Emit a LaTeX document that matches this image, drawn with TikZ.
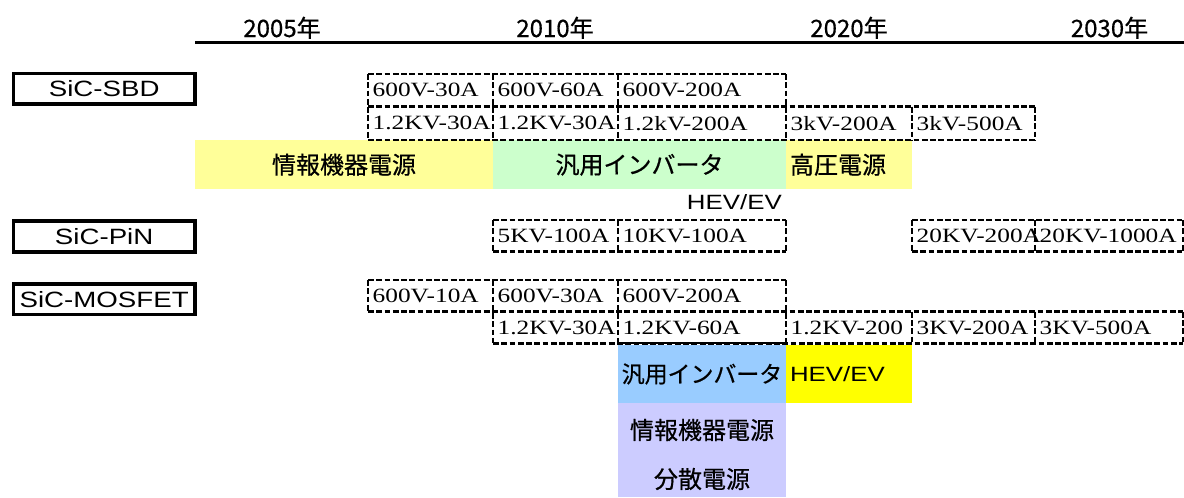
\documentclass[tikz,border=0pt]{standalone}
\usepackage{fontspec}
\newfontfamily\jpfont[FakeBold=0.6]{Noto Sans CJK JP}
\newfontfamily\serifst[FakeStretch=1.25]{Liberation Serif}
\newfontfamily\sansst[FakeStretch=1.25]{Liberation Sans}
\definecolor{lyel}{HTML}{FFFF99}
\definecolor{lgrn}{HTML}{CCFFCC}
\definecolor{lblu}{HTML}{99CCFF}
\definecolor{yel}{HTML}{FFFF00}
\definecolor{lav}{HTML}{CCCCFF}
\tikzset{
  cellbox/.style={inner xsep=3.5pt, inner ysep=0pt, outer sep=0pt, anchor=north west, font=\serifst\fontsize{15.2pt}{16pt}\selectfont},
  gridline/.style={line width=2.2pt, dash pattern=on 4.4pt off 1.8pt},
  devbox/.style={draw, line width=2.6pt, inner sep=0pt, outer sep=0pt, minimum width=136pt, minimum height=23pt, anchor=north west, font=\sansst\fontsize{16.6pt}{18pt}\selectfont},
  yeartxt/.style={anchor=base, inner sep=0pt, font=\jpfont\fontsize{18pt}{20pt}\selectfont},
  band/.style={inner sep=0pt, outer sep=0pt, anchor=north west, font=\jpfont\fontsize{18pt}{20pt}\selectfont},
  jptxt/.style={inner sep=0pt, font=\jpfont\fontsize{18pt}{20pt}\selectfont},
  hevtxt/.style={inner sep=0pt, font=\sansst\fontsize{15.5pt}{17pt}\selectfont},
}
\newcommand{\mycell}[6]{%
  \pgfmathsetlengthmacro{\mycw}{#4*0.75pt-7pt}%
  \pgfmathsetlengthmacro{\mych}{#5*0.75pt}%
  \node[cellbox, minimum height=\mych] (#1) at (#2,#3) {\makebox[\mycw][l]{#6}};}
\begin{document}
\begin{tikzpicture}[x=0.75pt, y=-0.75pt]
\useasboundingbox (0,0) rectangle (1184,497);
% header
\node[yeartxt] (y2005) at (282,37) {2005年};
\node[yeartxt] (y2010) at (555,37) {2010年};
\node[yeartxt] (y2020) at (849,37) {2020年};
\node[yeartxt] (y2030) at (1109.5,37) {2030年};
\coordinate (hl) at (195,42.3);
\coordinate (hr) at (1184,42.3);
\draw[line width=2.1pt] (hl) -- (hr);
% device labels
\node[devbox] (sbd) at (13.5,73.5) {SiC-SBD};
\node[devbox] (pin) at (13.5,221.2) {SiC-PiN};
\node[devbox] (mos) at (13.5,284) {SiC-MOSFET};
% application bands (SBD)
\node[band, fill=lyel, minimum width=223.5pt, minimum height=37pt] (a1) at (195,140) {情報機器電源};
\node[band, fill=lgrn, minimum width=219.75pt, minimum height=37pt] (a2) at (493,140) {汎用インバータ};
\node[band, fill=lyel, minimum height=37pt, inner xsep=3pt] (a3) at (786,140) {\makebox[88.5pt][l]{高圧電源}};
\node[hevtxt, anchor=base east] (hev1) at (782,209) {HEV/EV};
% application bands (MOSFET)
\node[band, fill=lblu, minimum width=126pt, minimum height=43.5pt, font=\jpfont\fontsize{17.2pt}{20pt}\selectfont] (b1) at (618,345) {汎用インバータ};
\node[band, fill=yel, minimum height=43.5pt, inner xsep=3pt, font=\sansst\fontsize{15.5pt}{17pt}\selectfont] (b2) at (786,345) {\makebox[88.5pt][l]{HEV/EV}};
\node[band, fill=lav, minimum width=126pt, minimum height=70.5pt] (b3) at (618,403) {};
\node[jptxt] (b3a) at (702,430) {情報機器電源};
\node[jptxt] (b3b) at (702,479) {分散電源};
% SBD cells
\mycell{s11}{368}{74}{125}{32.7}{600V-30A}
\mycell{s12}{493}{74}{125}{32.7}{600V-60A}
\mycell{s13}{618}{74}{168}{32.7}{600V-200A}
\mycell{s21}{368}{106.7}{125}{33.3}{1.2KV-30A}
\mycell{s22}{493}{106.7}{125}{33.3}{1.2KV-30A}
\mycell{s23}{618}{106.7}{168}{33.3}{1.2kV-200A}
\mycell{s24}{786}{106.7}{126}{33.3}{3kV-200A}
\mycell{s25}{912}{106.7}{123}{33.3}{3kV-500A}
\draw[gridline] (s11.north west) -- (s13.north east);
\draw[gridline] (s21.north west) -- (s25.north east);
\draw[gridline] (s21.south west) -- (s25.south east);
\draw[gridline] (s11.north west) -- (s21.south west);
\draw[gridline] (s12.north west) -- (s22.south west);
\draw[gridline] (s13.north west) -- (s23.south west);
\draw[gridline] (s13.north east) -- (s23.south east);
\draw[gridline] (s25.north west) -- (s25.south west);
\draw[gridline] (s25.north east) -- (s25.south east);
% PiN cells
\mycell{p1}{493}{220}{125}{31.7}{5KV-100A}
\mycell{p2}{618}{220}{168}{31.7}{10KV-100A}
\mycell{p3}{912}{220}{123}{31.7}{20KV-200A}
\mycell{p4}{1035}{220}{148}{31.7}{20KV-1000A}
\draw[gridline] (p1.north west) -- (p2.north east);
\draw[gridline] (p1.south west) -- (p2.south east);
\draw[gridline] (p3.north west) -- (p4.north east);
\draw[gridline] (p3.south west) -- (p4.south east);
\draw[gridline] (p1.north west) -- (p1.south west);
\draw[gridline] (p2.north west) -- (p2.south west);
\draw[gridline] (p2.north east) -- (p2.south east);
\draw[gridline] (p3.north west) -- (p3.south west);
\draw[gridline] (p4.north west) -- (p4.south west);
\draw[gridline] (p4.north east) -- (p4.south east);
% MOSFET cells
\mycell{m11}{368}{280}{125}{31.7}{600V-10A}
\mycell{m12}{493}{280}{125}{31.7}{600V-30A}
\mycell{m13}{618}{280}{168}{31.7}{600V-200A}
\mycell{m21}{493}{311.7}{125}{31.7}{1.2KV-30A}
\mycell{m22}{618}{311.7}{168}{31.7}{1.2KV-60A}
\mycell{m23}{786}{311.7}{126}{31.7}{1.2KV-200}
\mycell{m24}{912}{311.7}{123}{31.7}{3KV-200A}
\mycell{m25}{1035}{311.7}{148}{31.7}{3KV-500A}
\draw[gridline] (m11.north west) -- (m13.north east);
\draw[gridline] (m11.south west) -- (m25.north east);
\draw[gridline] (m21.south west) -- (m25.south east);
\draw[gridline] (m11.north west) -- (m11.south west);
\draw[gridline] (m12.north west) -- (m21.south west);
\draw[gridline] (m13.north west) -- (m22.south west);
\draw[gridline] (m13.north east) -- (m23.south west);
\draw[gridline] (m24.north west) -- (m24.south west);
\draw[gridline] (m25.north west) -- (m25.south west);
\draw[gridline] (m25.north east) -- (m25.south east);
\draw[line width=1.6pt] (m22.south west) -- (m22.south east);
\end{tikzpicture}
\end{document}
